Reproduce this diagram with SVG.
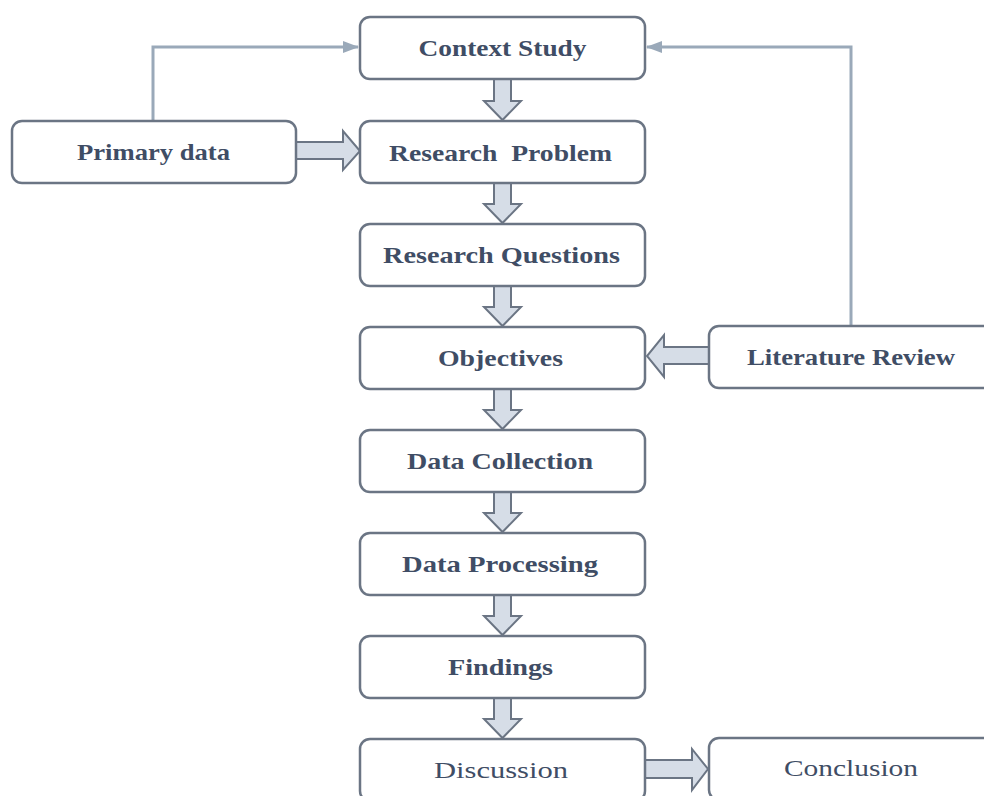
<svg xmlns="http://www.w3.org/2000/svg" width="984" height="796" viewBox="0 0 984 796">
<defs>
<style>
.box{fill:#ffffff;stroke:#6b7584;stroke-width:2.5}
.lbl{font-family:"Liberation Serif","Times New Roman",serif;font-size:24px;font-weight:bold;fill:#3f4d65;text-anchor:middle;white-space:pre}
.reg{font-weight:normal}
.blk{fill:#d6dde7;stroke:#6b7584;stroke-width:2;stroke-linejoin:miter}
.thin{fill:none;stroke:#9aa9b9;stroke-width:3}
</style>
<marker id="ah" markerWidth="16" markerHeight="12" refX="15" refY="6" orient="auto" markerUnits="userSpaceOnUse">
<path d="M0,0 L16,6 L0,12 Z" fill="#9aa9b9"/>
</marker>
</defs>
<rect width="984" height="796" fill="#ffffff"/>
<g id="connectors">
<path class="thin" d="M153,121 V47 H358" marker-end="url(#ah)"/>
<path class="thin" d="M851,326 V47 H647" marker-end="url(#ah)"/>
<path class="blk" d="M494,79 H511 V101 H521 L502.5,120 L484,101 H494 Z"/>
<path class="blk" d="M494,183 H511 V204 H521 L502.5,223 L484,204 H494 Z"/>
<path class="blk" d="M494,286 H511 V307 H521 L502.5,326 L484,307 H494 Z"/>
<path class="blk" d="M494,389 H511 V410 H521 L502.5,429 L484,410 H494 Z"/>
<path class="blk" d="M494,492 H511 V513 H521 L502.5,532 L484,513 H494 Z"/>
<path class="blk" d="M494,595 H511 V616 H521 L502.5,635 L484,616 H494 Z"/>
<path class="blk" d="M494,697 H511 V719 H521 L502.5,738 L484,719 H494 Z"/>
<path class="blk" d="M296,142 H343 V131 L360,151 L343,170 V159 H296 Z"/>
<path class="blk" d="M709,347 H664 V335 L647,356 L664,377 V364 H709 Z"/>
<path class="blk" d="M645,760 H692 V749 L708,769 L692,790 V778 H645 Z"/>
</g>
<g id="context-study"><rect class="box" x="360" y="17" width="285" height="62" rx="10"/><text class="lbl" x="502.5" y="56" textLength="168" lengthAdjust="spacingAndGlyphs">Context Study</text></g>
<g id="research-problem"><rect class="box" x="360" y="121" width="285" height="62" rx="10"/><text class="lbl" x="500.5" y="161" textLength="223" lengthAdjust="spacingAndGlyphs">Research  Problem</text></g>
<g id="research-questions"><rect class="box" x="360" y="224" width="285" height="62" rx="10"/><text class="lbl" x="501.5" y="263" textLength="237" lengthAdjust="spacingAndGlyphs">Research Questions</text></g>
<g id="objectives"><rect class="box" x="360" y="327" width="285" height="62" rx="10"/><text class="lbl" x="500.5" y="366" textLength="125" lengthAdjust="spacingAndGlyphs">Objectives</text></g>
<g id="data-collection"><rect class="box" x="360" y="430" width="285" height="62" rx="10"/><text class="lbl" x="500" y="469" textLength="186" lengthAdjust="spacingAndGlyphs">Data Collection</text></g>
<g id="data-processing"><rect class="box" x="360" y="533" width="285" height="62" rx="10"/><text class="lbl" x="500" y="572" textLength="196" lengthAdjust="spacingAndGlyphs">Data Processing</text></g>
<g id="findings"><rect class="box" x="360" y="636" width="285" height="62" rx="10"/><text class="lbl" x="500.5" y="675" textLength="105" lengthAdjust="spacingAndGlyphs">Findings</text></g>
<g id="discussion"><rect class="box" x="360" y="739" width="285" height="62" rx="10"/><text class="lbl reg" x="501" y="778" textLength="134" lengthAdjust="spacingAndGlyphs">Discussion</text></g>
<g id="primary-data"><rect class="box" x="12" y="121" width="284" height="62" rx="10"/><text class="lbl" x="153.5" y="160" textLength="153" lengthAdjust="spacingAndGlyphs">Primary data</text></g>
<g id="literature-review"><rect class="box" x="709" y="326" width="284" height="62" rx="10"/><text class="lbl" x="851" y="365" textLength="208" lengthAdjust="spacingAndGlyphs">Literature Review</text></g>
<g id="conclusion"><rect class="box" x="709" y="738" width="284" height="62" rx="10"/><text class="lbl reg" x="851" y="776" textLength="134" lengthAdjust="spacingAndGlyphs">Conclusion</text></g>
</svg>
